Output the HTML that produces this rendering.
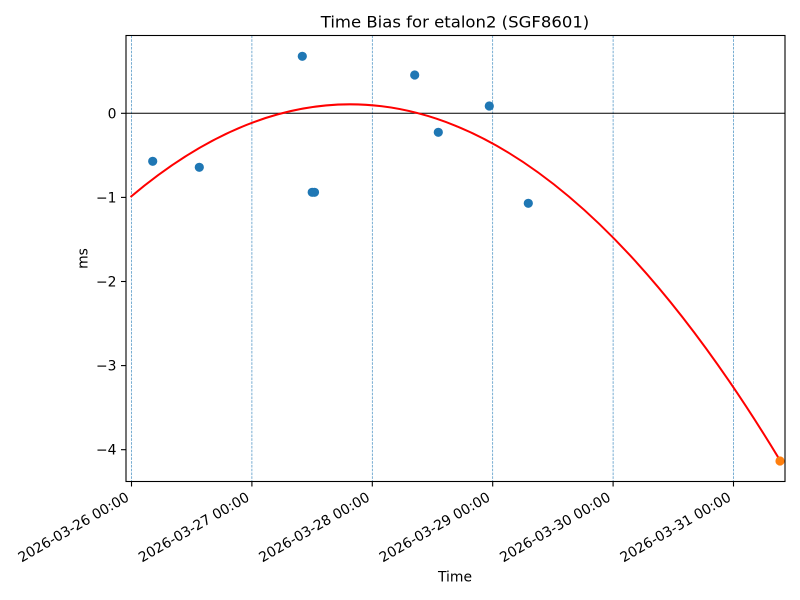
<!DOCTYPE html>
<html><head><meta charset="utf-8"><style>
html,body{margin:0;padding:0;background:#fff;}
svg{display:block;font-family:"DejaVu Sans","Liberation Sans",sans-serif;}
</style></head><body>
<svg width="800" height="600" viewBox="0 0 800 600" xmlns="http://www.w3.org/2000/svg">
<rect width="800" height="600" fill="#fff"/>
<!-- grid lines -->
<g stroke="#1f77b4" stroke-width="0.7" stroke-dasharray="2.6 1.2" opacity="0.85">
<line x1="131.5" y1="35.5" x2="131.5" y2="481.5"/>
<line x1="251.9" y1="35.5" x2="251.9" y2="481.5"/>
<line x1="372.3" y1="35.5" x2="372.3" y2="481.5"/>
<line x1="492.7" y1="35.5" x2="492.7" y2="481.5"/>
<line x1="613.1" y1="35.5" x2="613.1" y2="481.5"/>
<line x1="733.5" y1="35.5" x2="733.5" y2="481.5"/>
</g>
<!-- zero line -->
<line x1="126" y1="113.3" x2="785" y2="113.3" stroke="#000" stroke-width="1"/>
<!-- fit curve -->
<path d="M130.5,197 Q455.25,-77.35 780,460.3" fill="none" stroke="#ff0000" stroke-width="2"/>
<!-- points -->
<g fill="#1f77b4">
<circle cx="152.7" cy="161.3" r="4.6"/>
<circle cx="199.3" cy="167.3" r="4.6"/>
<circle cx="302.3" cy="56.3" r="4.6"/>
<circle cx="312.2" cy="192.3" r="4.6"/>
<circle cx="314.5" cy="192.3" r="4.6"/>
<circle cx="414.7" cy="75" r="4.6"/>
<circle cx="438.3" cy="132.3" r="4.6"/>
<circle cx="489.3" cy="106" r="4.6"/>
<circle cx="528.3" cy="203.3" r="4.6"/>
</g>
<circle cx="780" cy="461" r="4.6" fill="#ff7f0e"/>
<!-- spines -->
<rect x="126" y="35.5" width="659" height="446" fill="none" stroke="#000" stroke-width="1.1"/>
<!-- y ticks -->
<g stroke="#000" stroke-width="1.1">
<line x1="121" y1="113.3" x2="126" y2="113.3"/>
<line x1="121" y1="197.4" x2="126" y2="197.4"/>
<line x1="121" y1="281.5" x2="126" y2="281.5"/>
<line x1="121" y1="365.6" x2="126" y2="365.6"/>
<line x1="121" y1="449.7" x2="126" y2="449.7"/>
</g>
<g font-size="13.9" text-anchor="end" fill="#000">
<text x="116.5" y="118.3">0</text>
<text x="116.5" y="202.4">−1</text>
<text x="116.5" y="286.5">−2</text>
<text x="116.5" y="370.6">−3</text>
<text x="116.5" y="454.7">−4</text>
</g>
<!-- x ticks -->
<g stroke="#000" stroke-width="1.1">
<line x1="131.5" y1="481.5" x2="131.5" y2="486.5"/>
<line x1="251.9" y1="481.5" x2="251.9" y2="486.5"/>
<line x1="372.3" y1="481.5" x2="372.3" y2="486.5"/>
<line x1="492.7" y1="481.5" x2="492.7" y2="486.5"/>
<line x1="613.1" y1="481.5" x2="613.1" y2="486.5"/>
<line x1="733.5" y1="481.5" x2="733.5" y2="486.5"/>
</g>
<g font-size="13.9" text-anchor="end" fill="#000">
<text transform="translate(130,500) rotate(-30)">2026-03-26 00:00</text>
<text transform="translate(250.4,500) rotate(-30)">2026-03-27 00:00</text>
<text transform="translate(370.8,500) rotate(-30)">2026-03-28 00:00</text>
<text transform="translate(491.2,500) rotate(-30)">2026-03-29 00:00</text>
<text transform="translate(611.6,500) rotate(-30)">2026-03-30 00:00</text>
<text transform="translate(732,500) rotate(-30)">2026-03-31 00:00</text>
</g>
<!-- labels -->
<text x="455" y="581.7" font-size="13.9" text-anchor="middle">Time</text>
<text transform="translate(87.5,258.5) rotate(-90)" font-size="13.9" text-anchor="middle">ms</text>
<text x="455" y="27.7" font-size="16.2" text-anchor="middle" textLength="268.5" lengthAdjust="spacingAndGlyphs">Time Bias for etalon2 (SGF8601)</text>
</svg>
</body></html>
